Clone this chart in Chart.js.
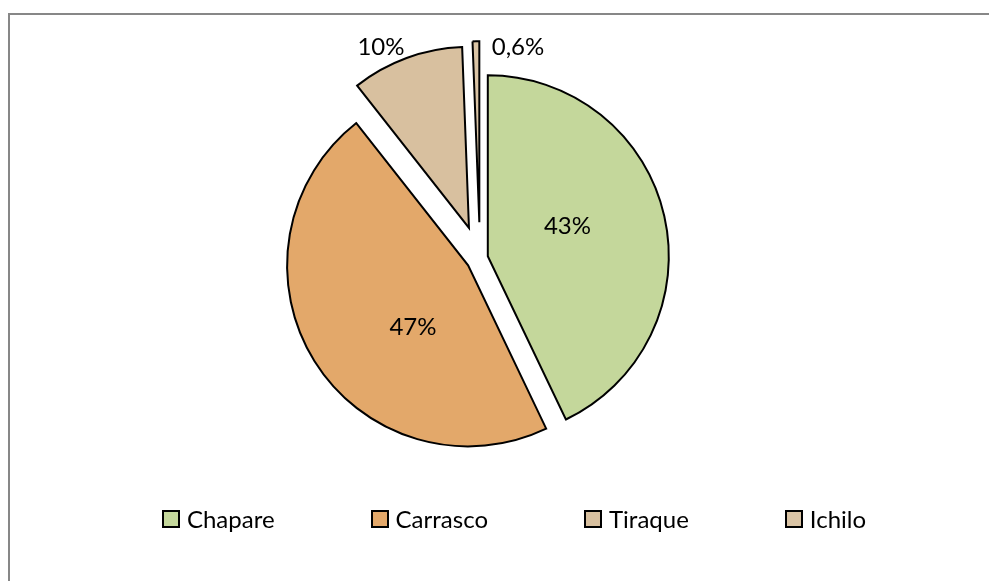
<!DOCTYPE html>
<html>
<head>
<meta charset="utf-8">
<script src="https://cdn.jsdelivr.net/npm/chart.js@4.4.0/dist/chart.umd.min.js"></script>
<style>
html, body { margin:0; padding:0; background:#fff; overflow:hidden; }
#frame { position:absolute; left:8px; top:13px; width:1100px; height:700px;
         border-top:2px solid #878787; border-left:2px solid #878787; }
#wrap { position:absolute; left:0; top:0; width:989px; height:581px; }
#legend { position:absolute; left:0; top:504px; width:1028px; display:flex; justify-content:center;
          font-family:Lato, sans-serif; font-size:24px; color:#000; }
.item { display:flex; align-items:center; margin:0 48px; }
.box { width:14px; height:14px; border:2px solid #000; margin-right:7px; }
</style>
</head>
<body>
<div id="frame"></div>
<div id="wrap"><canvas id="pieChart"></canvas></div>
<div id="legend"></div>
<script>
// data
var categories  = ['Chapare', 'Carrasco', 'Tiraque', 'Ichilo'];
var shares      = [42.9, 46.5, 10.0, 0.6];
var sliceColors = ['#C4D79B', '#E3A86A', '#D8C09F', '#DAC4A5'];
// how far each slice is pulled out (px), Excel style: plain shift, no growth
var explode     = [8, 14, 32, 35.7];

// where each % label goes: fraction along arc, fraction of radius, nudge
var labelPlace = [
	{t:0.45,  r:0.47,  dx:0,  dy:0},
	{t:0.403, r:0.456, dx:0,  dy:0},
	{t:0.34,  r:1.112, dx:0,  dy:0},
	{t:0.5,   r:0.97,  dx:42, dy:0}
];

function fmt(v){
	if(v >= 1){
		return Math.round(v) + '%';
	}
	return v.toFixed(1).replace('.', ',') + '%';
}

function sliceShift(arc, i){
	var half = (arc.startAngle + arc.endAngle) / 2;
	return {x: Math.cos(half) * explode[i], y: Math.sin(half) * explode[i]};
}

// draw the arcs ourselves so an exploded slice is only moved, not enlarged
var explodePie = {
	id: 'explodePie',
	beforeDatasetDraw: function(chart, args){
		var ctx = chart.ctx;
		args.meta.data.forEach(function(arc, i){
			var s = sliceShift(arc, i);
			ctx.save();
			ctx.translate(s.x, s.y);
			arc.draw(ctx, chart.chartArea);
			ctx.restore();
		});
		return false;
	}
};

var pctLabels = {
	id: 'pctLabels',
	afterDatasetsDraw: function(chart){
		var ctx = chart.ctx;
		var arcs = chart.getDatasetMeta(0).data;
		ctx.save();
		ctx.font = '24px Lato';
		ctx.fillStyle = '#000';
		ctx.textAlign = 'center';
		ctx.textBaseline = 'middle';
		arcs.forEach(function(arc, i){
			var s = sliceShift(arc, i);
			var cx = arc.x + s.x,
			    cy = arc.y + s.y;
			var pl = labelPlace[i];
			var a = arc.startAngle + pl.t * (arc.endAngle - arc.startAngle);
			ctx.fillText(fmt(shares[i]),
				cx + Math.cos(a) * pl.r * arc.outerRadius + pl.dx,
				cy + Math.sin(a) * pl.r * arc.outerRadius + pl.dy);
		});
		ctx.restore();
	}
};

var ctx = document.getElementById('pieChart').getContext('2d');
var myPie = new Chart(ctx, {
	type: 'pie',
	data: {
		labels: categories,
		datasets: [{
			data: shares,
			backgroundColor: sliceColors,
			borderColor: '#000',
			borderWidth: 2,
			borderJoinStyle: 'miter',
			offset: 0,
			hoverOffset: 0,
			radius: 181
		}]
	},
	options: {
		responsive: true,
		maintainAspectRatio: false,
		animation: false,
		layout: { padding: {left:0, right:29, top:0, bottom:65} },
		plugins: {
			legend: { display:false },
			tooltip: { enabled:false }
		}
	},
	plugins: [explodePie, pctLabels]
});

// legend, Excel style
var lg = document.getElementById('legend');
categories.forEach(function(name, i){
	var it = document.createElement('div');
	it.className = 'item';
	var b = document.createElement('div');
	b.className = 'box';
	b.style.background = sliceColors[i];
	var s = document.createElement('span');
	s.textContent = name;
	it.appendChild(b);
	it.appendChild(s);
	lg.appendChild(it);
});
</script>
</body>
</html>
